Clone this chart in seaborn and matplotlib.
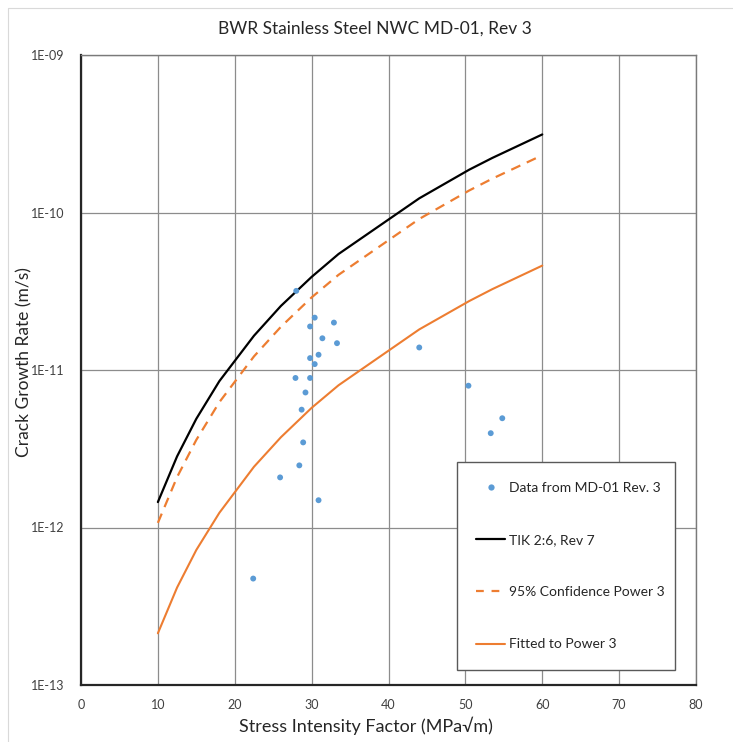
import matplotlib
matplotlib.use("Agg")
import matplotlib.pyplot as plt
import seaborn as sns
import pandas as pd
from matplotlib.lines import Line2D
from matplotlib.ticker import FixedLocator, FixedFormatter, NullLocator

# Measured crack growth rates, MD-01 Rev. 3
k_data = [28.0, 30.4, 32.9, 29.8, 31.4, 33.3, 29.8, 30.9, 30.4, 27.9, 29.8,
          29.2, 28.7, 28.9, 28.4, 25.9, 30.9, 22.4, 44.0, 50.4, 54.8, 53.3]
rate_data = [3.18e-11, 2.15e-11, 2.0e-11, 1.89e-11, 1.59e-11, 1.48e-11,
             1.19e-11, 1.25e-11, 1.09e-11, 8.9e-12, 8.9e-12, 7.2e-12,
             5.6e-12, 3.47e-12, 2.48e-12, 2.08e-12, 1.49e-12, 4.74e-13,
             1.39e-11, 7.95e-12, 4.94e-12, 3.97e-12]

# Reference curves
k_curve = [10, 12.5, 15, 18, 22.5, 26, 30, 33.5, 44, 50.5, 53.5, 60]
rate_tik = [1.45e-12, 2.83e-12, 4.9e-12, 8.5e-12, 1.65e-11, 2.55e-11,
            3.9e-11, 5.45e-11, 1.23e-10, 1.87e-10, 2.22e-10, 3.13e-10]
rate_conf95 = [1.07e-12, 2.09e-12, 3.6e-12, 6.25e-12, 1.22e-11, 1.88e-11,
               2.89e-11, 4.02e-11, 9.1e-11, 1.38e-10, 1.64e-10, 2.31e-10]
rate_fit = [2.13e-13, 4.16e-13, 7.2e-13, 1.24e-12, 2.43e-12, 3.74e-12,
            5.75e-12, 8.0e-12, 1.81e-11, 2.74e-11, 3.26e-11, 4.6e-11]

x_ticks = [0, 10, 20, 30, 40, 50, 60, 70, 80]
y_ticks = [1e-13, 1e-12, 1e-11, 1e-10, 1e-9]
y_tick_labels = ["1E-13", "1E-12", "1E-11", "1E-10", "1E-09"]

labels = ["Data from MD-01 Rev. 3", "TIK 2:6, Rev 7",
          "95% Confidence Power 3", "Fitted to Power 3"]

BLUE = "#5B9BD5"
ORANGE = "#ED7D31"
GRID = "#8C8C8C"
TEXT = "#262626"

sns.set_theme(style="white")
plt.rcParams["font.family"] = ["Lato", "DejaVu Sans"]

W, H = 733, 742
fig = plt.figure(figsize=(W / 100, H / 100), dpi=100)
ax = fig.add_axes([81 / W, 1 - 685 / H, (696 - 81) / W, (685 - 55) / H])

df_pts = pd.DataFrame({"K": k_data, "rate": rate_data})
df_tik = pd.DataFrame({"K": k_curve, "rate": rate_tik})
df_c95 = pd.DataFrame({"K": k_curve, "rate": rate_conf95})
df_fit = pd.DataFrame({"K": k_curve, "rate": rate_fit})

sns.lineplot(data=df_tik, x="K", y="rate", ax=ax, color="black", lw=1.6,
             sort=False, estimator=None, zorder=3)
sns.lineplot(data=df_c95, x="K", y="rate", ax=ax, color=ORANGE, lw=1.6,
             sort=False, estimator=None, zorder=3)
ax.lines[-1].set_dashes([4.5, 3.2])
sns.lineplot(data=df_fit, x="K", y="rate", ax=ax, color=ORANGE, lw=1.5,
             sort=False, estimator=None, zorder=3)
sns.scatterplot(data=df_pts, x="K", y="rate", ax=ax, color=BLUE, s=18,
                edgecolor="none", zorder=4)

ax.set_yscale("log")
ax.set_xlim(0, 80)
ax.set_ylim(1e-13, 1e-9)
ax.xaxis.set_major_locator(FixedLocator(x_ticks))
ax.yaxis.set_major_locator(FixedLocator(y_ticks))
ax.yaxis.set_major_formatter(FixedFormatter(y_tick_labels))
ax.yaxis.set_minor_locator(NullLocator())
ax.tick_params(axis="both", length=0, labelsize=9, colors="#404040")
ax.tick_params(axis="x", pad=10)
ax.tick_params(axis="y", pad=12)

ax.grid(True, which="major", color=GRID, lw=0.9)
ax.set_axisbelow(True)
for side in ("top", "right"):
    ax.spines[side].set_color("#7a7a7a")
    ax.spines[side].set_linewidth(1.0)
for side in ("left", "bottom"):
    ax.spines[side].set_color(TEXT)
    ax.spines[side].set_linewidth(1.6)

ax.set_xlabel("Stress Intensity Factor (MPa√m)", fontsize=13, color=TEXT)
ax.xaxis.set_label_coords((366 - 81) / 615, -(717 - 685) / 630)
ax.set_ylabel("Crack Growth Rate (m/s)", fontsize=12.5, color=TEXT)
ax.yaxis.set_label_coords((32 - 81) / 615, (685 - 362) / 630)
fig.text(375 / W, 1 - 29 / H, "BWR Stainless Steel NWC MD-01, Rev 3",
         fontsize=12.5, color=TEXT, ha="center", va="center")

handles = [
    Line2D([], [], ls="none", marker="o", ms=4.5, color=BLUE, mec="none"),
    Line2D([], [], color="black", lw=1.6),
    Line2D([], [], color=ORANGE, lw=1.6, dashes=[3.5, 3.5]),
    Line2D([], [], color=ORANGE, lw=1.5),
]
leg = ax.legend(handles, labels, loc="lower left",
                bbox_to_anchor=(0.611, 0.024, 0.355, 0.33), mode="expand",
                fontsize=10, frameon=True, fancybox=False, framealpha=1,
                edgecolor="#595959", labelspacing=2.9, borderpad=1.4,
                handlelength=2.1, handletextpad=0.25, borderaxespad=0)
leg.get_frame().set_linewidth(1.0)
for t in leg.get_texts():
    t.set_color(TEXT)

# chart-area border
fig.add_artist(Line2D([8 / W, 8 / W, 1], [0, 1 - 8 / H, 1 - 8 / H],
                      transform=fig.transFigure, color="#d9d9d9", lw=0.8))

fig.savefig("out.png", dpi=100)
